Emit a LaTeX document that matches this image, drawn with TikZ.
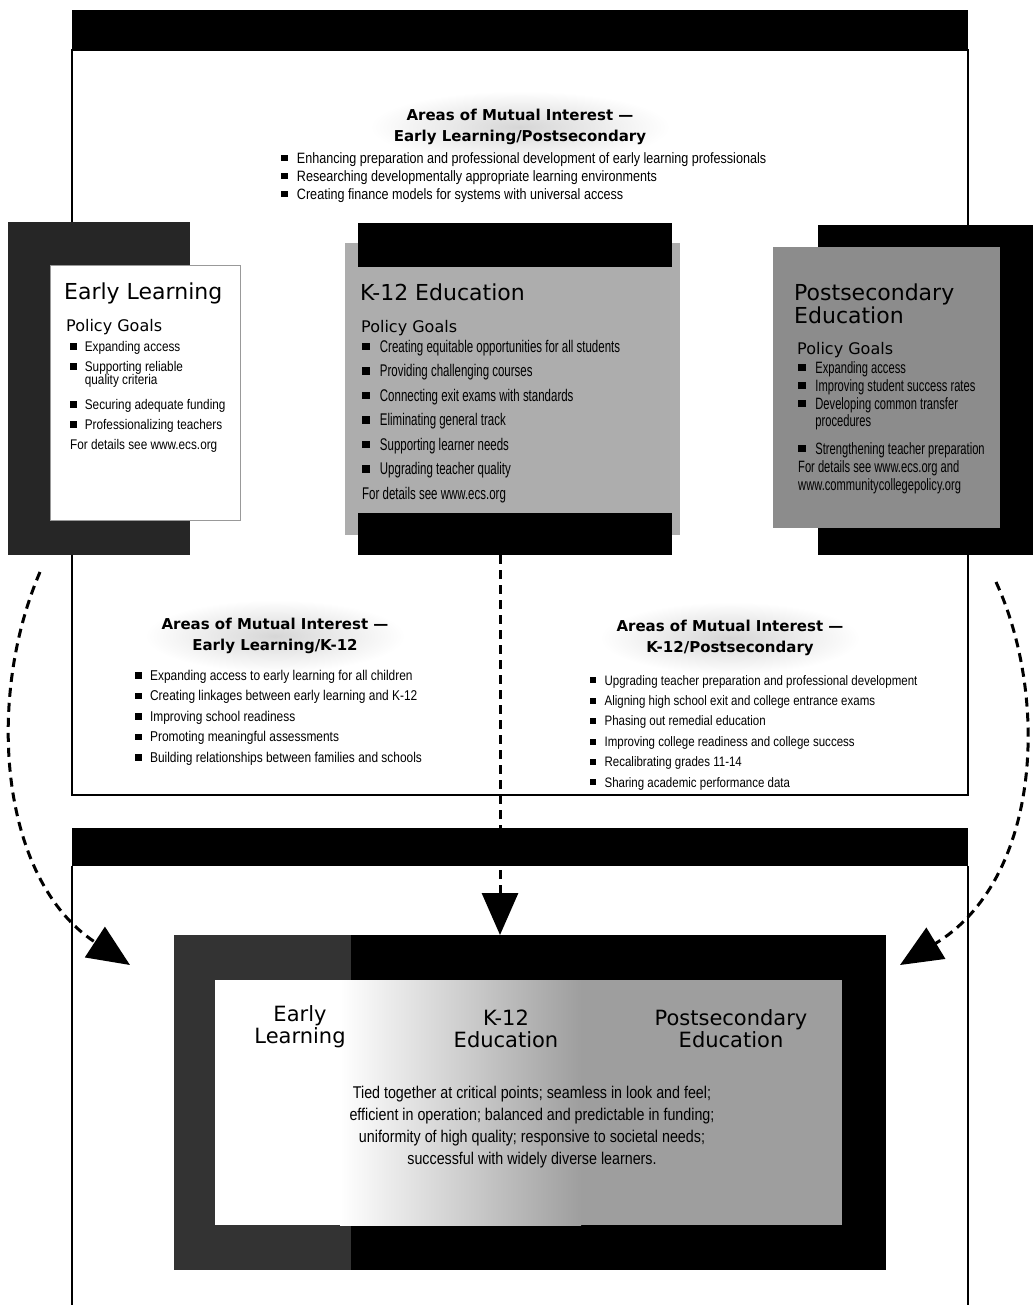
\documentclass[tikz,border=0pt]{standalone}
\usepackage{fontspec}
\usetikzlibrary{arrows.meta,calc,positioning}
\setmainfont{Liberation Sans}
\newfontfamily\headfont{DejaVu Sans}
\newfontfamily\narrowfont{Liberation Sans}[FakeStretch=0.84]
\newfontfamily\tightfont{Liberation Sans}[FakeStretch=0.68]
\newcommand{\sqb}{\rule[0.12em]{0.45em}{0.45em}\hspace{0.6em}}
\newcommand{\ind}{\hspace*{1.05em}}
\tikzset{mhead/.style={font=\headfont\bfseries\fontsize{15}{21}\selectfont, align=center, inner sep=0pt}}
\tikzset{ctitle/.style={font=\headfont\fontsize{22}{21}\selectfont, align=left, inner sep=0pt, anchor=north west}}
\tikzset{goals/.style={font=\headfont\fontsize{16}{18}\selectfont, inner sep=0pt, anchor=north west}}
\tikzset{blist/.style={align=left, inner sep=0pt, anchor=north west}}
\tikzstyle{halo}=[inner color=black!16, outer color=white]
\tikzstyle{dasharrow}=[->, line width=3pt, dash pattern=on 9pt off 6pt]

\begin{document}
\begin{tikzpicture}[x=1pt, y=-1pt, >={Stealth[length=42pt, width=36pt, inset=0pt]}]
\useasboundingbox (0,0) rectangle (1033,1305);
\fill[white] (0,0) rectangle (1033,1305);

% upper frame
\draw[line width=1.2pt] (72,50) rectangle (968,795);
\fill[black] (72,10) rectangle (968,50);

% mutual interest headings
\shade[halo] (520,127) ellipse [x radius=150pt, y radius=36pt];
\shade[halo] (275,636) ellipse [x radius=130pt, y radius=36pt];
\shade[halo] (730,638) ellipse [x radius=130pt, y radius=36pt];
\node[mhead] (mtop) at (520,127) {Areas of Mutual Interest —\\Early Learning/Postsecondary};
\node[mhead] (melk) at (275,636) {Areas of Mutual Interest —\\Early Learning/K-12};
\node[mhead] (mkps) at (730,638) {Areas of Mutual Interest —\\K-12/Postsecondary};

\node[blist, font=\narrowfont\fontsize{15}{18}\selectfont] (mtoplist) at (281,152)
  {\sqb Enhancing preparation and professional development of early learning professionals\\
   \sqb Researching developmentally appropriate learning environments\\
   \sqb Creating finance models for systems with universal access};
\node[blist, font=\narrowfont\fontsize{14.2}{20.5}\selectfont] (melklist) at (135,670)
  {\sqb Expanding access to early learning for all children\\
   \sqb Creating linkages between early learning and K-12\\
   \sqb Improving school readiness\\
   \sqb Promoting meaningful assessments\\
   \sqb Building relationships between families and schools};
\node[blist, font=\narrowfont\fontsize{13.7}{20.4}\selectfont] (mkpslist) at (590,675)
  {\sqb Upgrading teacher preparation and professional development\\
   \sqb Aligning high school exit and college entrance exams\\
   \sqb Phasing out remedial education\\
   \sqb Improving college readiness and college success\\
   \sqb Recalibrating grades 11-14\\
   \sqb Sharing academic performance data};

% early learning card
\fill[black!85] (8,222) rectangle (190,555);
\draw[fill=white, draw=black!40] (50,265) rectangle (240,520);
\node[ctitle] (eltitle) at (64,283) {Early Learning};
\node[goals] (elgoals) at (66,319) {Policy Goals};
\node[blist, font=\narrowfont\fontsize{14}{20}\selectfont] (ellist) at (70,341)
  {\sqb Expanding access\\
   \sqb Supporting reliable\\[-7pt]
   \ind quality criteria\\[5pt]
   \sqb Securing adequate funding\\
   \sqb Professionalizing teachers\\
   For details see www.ecs.org};

% k-12 card
\fill[black!32] (345,243) rectangle (680,535);
\fill[black] (358,223) rectangle (672,267);
\node[fill=black, inner sep=0pt, minimum width=314pt, minimum height=42pt, anchor=north west] (k12bot) at (358,513) {};
\node[ctitle] (k12title) at (360,284) {K-12 Education};
\node[goals] (k12goals) at (361,320) {Policy Goals};
\node[blist, font=\tightfont\fontsize{16.9}{24.5}\selectfont] (k12list) at (362,340)
  {\sqb Creating equitable opportunities for all students\\
   \sqb Providing challenging courses\\
   \sqb Connecting exit exams with standards\\
   \sqb Eliminating general track\\
   \sqb Supporting learner needs\\
   \sqb Upgrading teacher quality\\
   For details see www.ecs.org};

% postsecondary card
\fill[black] (818,225) rectangle (1033,555);
\fill[black!45] (773,247) rectangle (1000,528);
\node[ctitle] (pstitle) at (794,284) {Postsecondary\\Education};
\node[goals] (psgoals) at (797,342) {Policy Goals};
\node[blist, font=\tightfont\fontsize{16.4}{18}\selectfont] (pslist) at (798,361)
  {\sqb Expanding access\\
   \sqb Improving student success rates\\
   \sqb Developing common transfer\\[-1pt]
   \ind procedures\\[10pt]
   \sqb Strengthening teacher preparation\\
   For details see www.ecs.org and\\
   www.communitycollegepolicy.org};

% lower frame
\fill[black] (72,828) rectangle (968,866);
\draw[line width=1.2pt] (72,866) -- (72,1305) (968,866) -- (968,1305);

% seamless system
\node[fill=black, inner sep=0pt, minimum width=712pt, minimum height=335pt, anchor=north west] (sumbox) at (174,935) {};
\fill[black!80] (174,935) rectangle (351,1270);
\fill[black!38] (215,980) rectangle (842,1225);
\fill[white] (215,980) rectangle (341,1225);
\shade[left color=white, right color=black!38] (340,980) rectangle (581,1225);
\node[font=\headfont\fontsize{21}{22}\selectfont, align=center, inner sep=0pt] (sumel) at (300,1027) {Early\\Learning};
\node[font=\headfont\fontsize{21}{22}\selectfont, align=center, inner sep=0pt] (sumk12) at (506,1029) {K-12\\Education};
\node[font=\headfont\fontsize{21}{22}\selectfont, align=center, inner sep=0pt] (sumps) at (731,1029) {Postsecondary\\Education};
\node[font=\narrowfont\fontsize{17}{22}\selectfont, align=center, inner sep=0pt] (sumtext) at (532,1127)
  {Tied together at critical points; seamless in look and feel;\\
   efficient in operation; balanced and predictable in funding;\\
   uniformity of high quality; responsive to societal needs;\\
   successful with widely diverse learners.};

% connectors
\coordinate (sumtip) at (500,935);
\coordinate (elstart) at (40,572);
\coordinate (elend) at (130,965);
\coordinate (psstart) at (996,582);
\coordinate (psend) at (900,965);
\draw[dasharrow] (k12bot.south -| sumtip) -- (sumtip);
\draw[dasharrow] (elstart) .. controls (-15,700) and (0,880) .. (elend);
\draw[dasharrow] (psstart) .. controls (1050,700) and (1040,880) .. (psend);
\end{tikzpicture}
\end{document}
